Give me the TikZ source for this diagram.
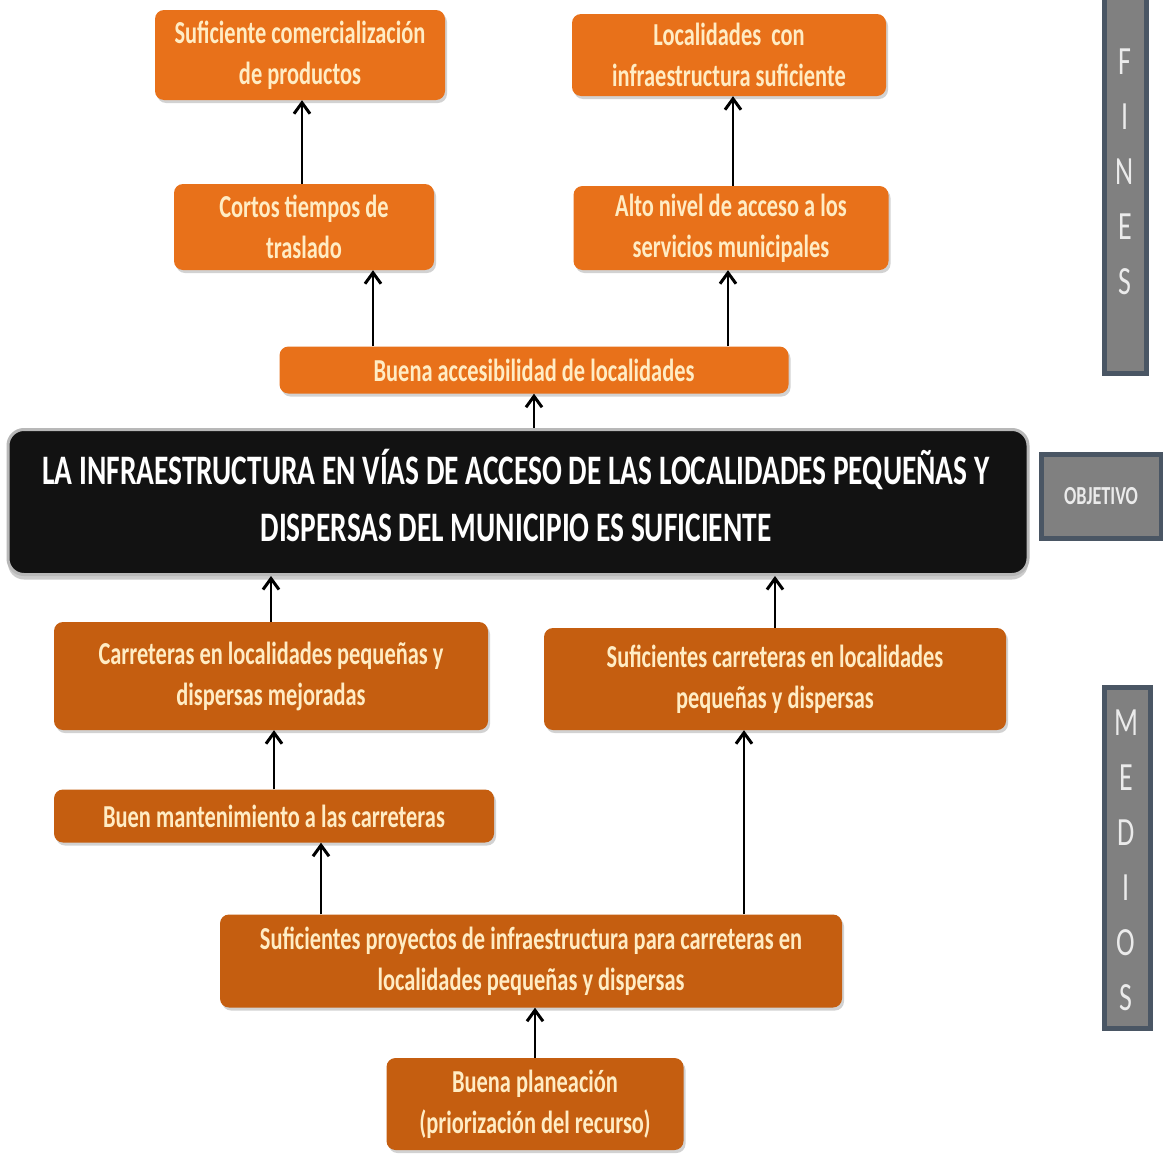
\documentclass[tikz,border=0pt]{standalone}
\usepackage{fontspec}
\setmainfont{Carlito}
\newfontfamily\cf{Carlito}[FakeStretch=0.7]
\usetikzlibrary{arrows.meta,shadows}
\definecolor{orA}{RGB}{232,113,26}
\definecolor{orB}{RGB}{197,94,16}
\definecolor{cream}{RGB}{255,236,196}
\definecolor{barfill}{RGB}{128,128,128}
\definecolor{barline}{RGB}{74,86,100}
\tikzset{
  box/.style={rounded corners=9pt, align=center, text=cream, inner sep=0pt,
    font=\cf\bfseries\fontsize{32}{41}\selectfont,
    drop shadow={opacity=0.35, shadow xshift=2pt, shadow yshift=-3pt}},
  fbox/.style={box, fill=orA},
  mbox/.style={box, fill=orB},
  sidebar/.style={fill=barfill, draw=barline, line width=5pt, text=white!92!black, align=center, inner sep=0pt},
  sidetext/.style={text=white!92!black, align=center, inner sep=0pt, font=\cf\fontsize{40}{55}\selectfont},
  arr/.style={draw=black, line width=2.8pt, -{Straight Barb[length=11pt,width=16pt,line width=3pt]}}
}
\begin{document}
\begin{tikzpicture}[x=1pt,y=-1pt]
\useasboundingbox[fill=white] (0,0) rectangle (1163,1154);
% fines
\node[fbox, minimum width=290, minimum height=90] (fin1) at (300,55) {Suficiente comercialización\\de productos};
\node[fbox, minimum width=314, minimum height=82] (fin2) at (729,55) {Localidades\ \ con\\infraestructura\ suficiente};
\node[fbox, minimum width=260, minimum height=86] (fin3) at (304,227) {Cortos tiempos de\\traslado};
\node[fbox, minimum width=315, minimum height=84] (fin4) at (731,228) {Alto nivel de acceso a los\\servicios municipales};
\node[fbox, minimum width=509, minimum height=47] (acc) at (534,370) {Buena accesibilidad de localidades};
% objective
\node[rounded corners=16pt, fill=black!93, draw=black!28, line width=3pt, align=center, text=white, inner sep=0pt,
  minimum width=1020, minimum height=145,
  drop shadow={opacity=0.4, shadow xshift=0pt, shadow yshift=-5pt}] (obj) at (518,502) {};
\node[align=center, text=white, inner sep=0pt, font=\cf\bfseries\fontsize{42}{57}\selectfont] (objtxt) at (516,496)
  {LA INFRAESTRUCTURA EN VÍAS DE ACCESO DE LAS LOCALIDADES PEQUEÑAS Y\\DISPERSAS DEL MUNICIPIO ES SUFICIENTE};
% medios
\node[mbox, minimum width=434, minimum height=108] (m1) at (271,676) {Carreteras en localidades pequeñas y\\dispersas mejoradas};
\node[mbox, minimum width=462, minimum height=102] (m2) at (775,679) {Suficientes carreteras en localidades\\pequeñas y dispersas};
\node[mbox, minimum width=440, minimum height=53] (m3) at (274,816) {Buen mantenimiento a las carreteras};
\node[mbox, minimum width=622, minimum height=93] (m4) at (531,961) {Suficientes proyectos de infraestructura\ para carreteras en\\localidades pequeñas y dispersas};
\node[mbox, minimum width=297, minimum height=92] (m5) at (535,1104) {Buena planeación\\(priorización\ del recurso)};
% side bars
\node[sidebar, minimum width=42, minimum height=380] (fines) at (1125,183) {};
\node[sidetext] (finestxt) at (1125,172) {F\\I\\N\\E\\S};
\node[sidebar, minimum width=120, minimum height=84, font=\cf\bfseries\fontsize{26}{30}\selectfont] (objlab) at (1101,496) {OBJETIVO};
\node[sidebar, minimum width=46, minimum height=341] (medios) at (1127,858) {};
\node[sidetext] (mediostxt) at (1126,860) {M\\E\\D\\I\\O\\S};
% arrows
\draw[arr] ([xshift=-2pt]fin3.north) -- ([xshift=-2pt]fin3.north |- fin1.south);
\draw[arr] ([xshift=2pt]fin4.north) -- ([xshift=2pt]fin4.north |- fin2.south);
\draw[arr] ([xshift=-161pt]acc.north) -- ([xshift=-161pt]acc.north |- fin3.south);
\draw[arr] ([xshift=194pt]acc.north) -- ([xshift=194pt]acc.north |- fin4.south);
\draw[arr] (obj.north -| acc.south) -- (acc.south);
\draw[arr] (m1.north) -- (m1.north |- obj.south);
\draw[arr] (m2.north) -- (m2.north |- obj.south);
\draw[arr] (m3.north) -- (m3.north |- m1.south);
\draw[arr] ([xshift=-210pt]m4.north) -- ([xshift=-210pt]m4.north |- m3.south);
\draw[arr] ([xshift=213pt]m4.north) -- ([xshift=213pt]m4.north |- m2.south);
\draw[arr] (m5.north) -- (m5.north |- m4.south);
\end{tikzpicture}
\end{document}
